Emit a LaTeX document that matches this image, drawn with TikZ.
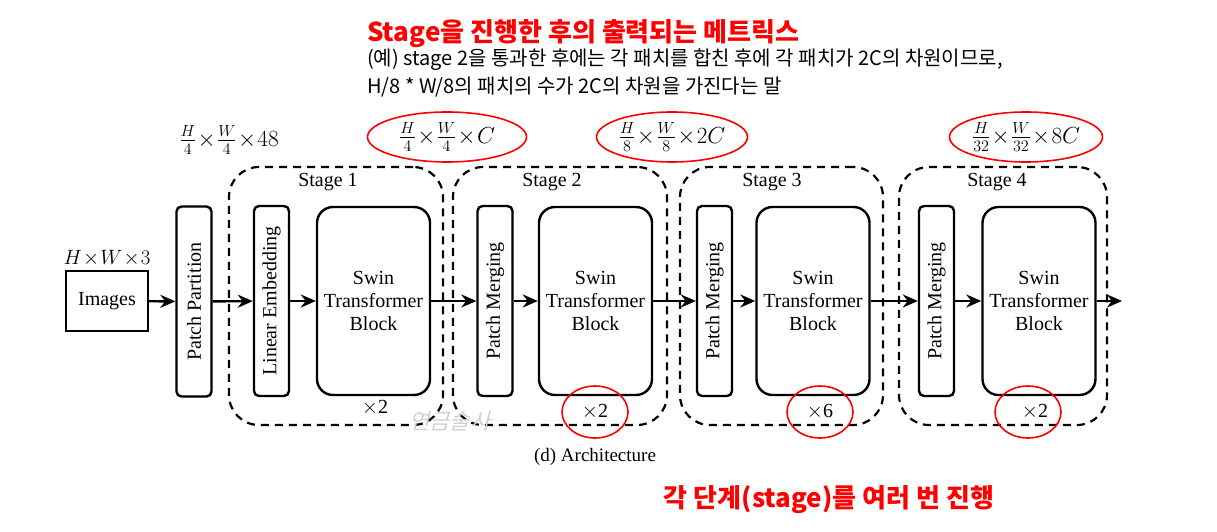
\documentclass[tikz,border=0pt]{standalone}
\usepackage{fontspec}
\setmainfont{Liberation Serif}
\newfontfamily\krfont{Noto Sans CJK KR}
\usetikzlibrary{arrows.meta,positioning,shapes.geometric}
\newcommand{\dimtext}[1]{\scalebox{1.12}{$#1$}}

\begin{document}
\begin{tikzpicture}[
  x=1pt,y=-1pt,
  font=\fontsize{20}{23}\selectfont,
  slim/.style={draw,line width=2.4pt,rounded corners=5pt,rotate=90,minimum width=190pt,minimum height=35pt,inner sep=0pt},
  swin/.style={draw,line width=2.4pt,rounded corners=16pt,align=center,minimum width=113pt,minimum height=188pt},
  stagebox/.style={draw,line width=2.2pt,dash pattern=on 8pt off 6pt,rounded corners=30pt},
  arr/.style={-{Stealth[length=15pt,width=13pt]},line width=2.4pt},
  ring/.style={draw=red,line width=1.6pt,ellipse,inner sep=0pt},
  kr/.style={font=\krfont\fontsize{20}{24}\selectfont,anchor=west,inner sep=0pt},
  krred/.style={font=\krfont\bfseries\fontsize{26}{30}\selectfont,text=red,inner sep=0pt}
]
\useasboundingbox (0,0) rectangle (1217,532);

% stages
\node[stagebox,minimum width=214pt,minimum height=258pt] (st1) at (336,296) {};
\node[stagebox,minimum width=214pt,minimum height=258pt] (st2) at (560,296) {};
\node[stagebox,minimum width=203pt,minimum height=258pt] (st3) at (781.5,296) {};
\node[stagebox,minimum width=208pt,minimum height=258pt] (st4) at (1003,296) {};
\node (st1lbl) at (328,182) {Stage 1};
\node (st2lbl) at (552,182) {Stage 2};
\node (st3lbl) at (772,182) {Stage 3};
\node (st4lbl) at (997,182) {Stage 4};

% blocks
\node[draw,line width=2.4pt,minimum width=82pt,minimum height=60pt] (img) at (107,301) {Images};
\node[above=0pt of img] (imgdim) {$H\!\times\! W\!\times\! 3$};
\node[slim] (part) at (194,301.5) {Patch Partition};
\node[slim] (embed) at (271.5,301) {Linear Embedding};
\node[swin] (swin1) at (373.5,301) {Swin\\Transformer\\Block};
\node[slim] (merge2) at (495,301) {Patch Merging};
\node[swin] (swin2) at (595.5,301) {Swin\\Transformer\\Block};
\node[slim] (merge3) at (714.5,301) {Patch Merging};
\node[swin] (swin3) at (813,301) {Swin\\Transformer\\Block};
\node[slim] (merge4) at (936.5,301) {Patch Merging};
\node[swin] (swin4) at (1039,301) {Swin\\Transformer\\Block};
\coordinate (out) at (1122,301);

\draw[arr] (img) -- (part);
\draw[arr] (part) -- (embed);
\draw[arr] (embed) -- (swin1);
\draw[arr] (swin1) -- (merge2);
\draw[arr] (merge2) -- (swin2);
\draw[arr] (swin2) -- (merge3);
\draw[arr] (merge3) -- (swin3);
\draw[arr] (swin3) -- (merge4);
\draw[arr] (merge4) -- (swin4);
\draw[arr] (swin4) -- (out);

% repeats
\node (rep1) at (375,408) {$\times$2};
\node[ring,minimum width=66pt,minimum height=52pt] (rep2) at (595,412) {$\times$2};
\node[ring,minimum width=66pt,minimum height=52pt] (rep3) at (820,412) {$\times$6};
\node[ring,minimum width=66pt,minimum height=52pt] (rep4) at (1028,412) {\hspace*{14pt}$\times$2};

% sizes
\node (dim0) at (229,140) {\dimtext{\frac{H}{4}\!\times\!\frac{W}{4}\!\times\!48}};
\node[ring,minimum width=159pt,minimum height=50pt] (dim1) at (447,137) {\dimtext{\frac{H}{4}\!\times\!\frac{W}{4}\!\times\!C}};
\node[ring,minimum width=144pt,minimum height=50pt] (dim2) at (672,137) {\dimtext{\frac{H}{8}\!\times\!\frac{W}{8}\!\times\!2C}};
\node[ring,minimum width=144pt,minimum height=50pt] (dim3) at (1026,137) {\dimtext{\frac{H}{32}\!\times\!\frac{W}{32}\!\times\!8C}};

\node[font=\fontsize{19}{22}\selectfont] (caption) at (595,457) {(d) Architecture};
\node[font=\krfont\fontsize{22}{24}\selectfont,text=black!18,xslant=0.25] (wmark) at (452,421) {연금술사};

% notes
\node[krred,anchor=west] (title) at (367,34) {Stage을 진행한 후의 출력되는 메트릭스};
\node[kr] (note1) at (367,60) {(예) stage 2을 통과한 후에는 각 패치를 합친 후에 각 패치가 2C의 차원이므로,};
\node[kr] (note2) at (367,87) {H/8 * W/8의 패치의 수가 2C의 차원을 가진다는 말};
\node[krred] (repeat) at (829,500) {각 단계(stage)를 여러 번 진행};
\end{tikzpicture}
\end{document}
